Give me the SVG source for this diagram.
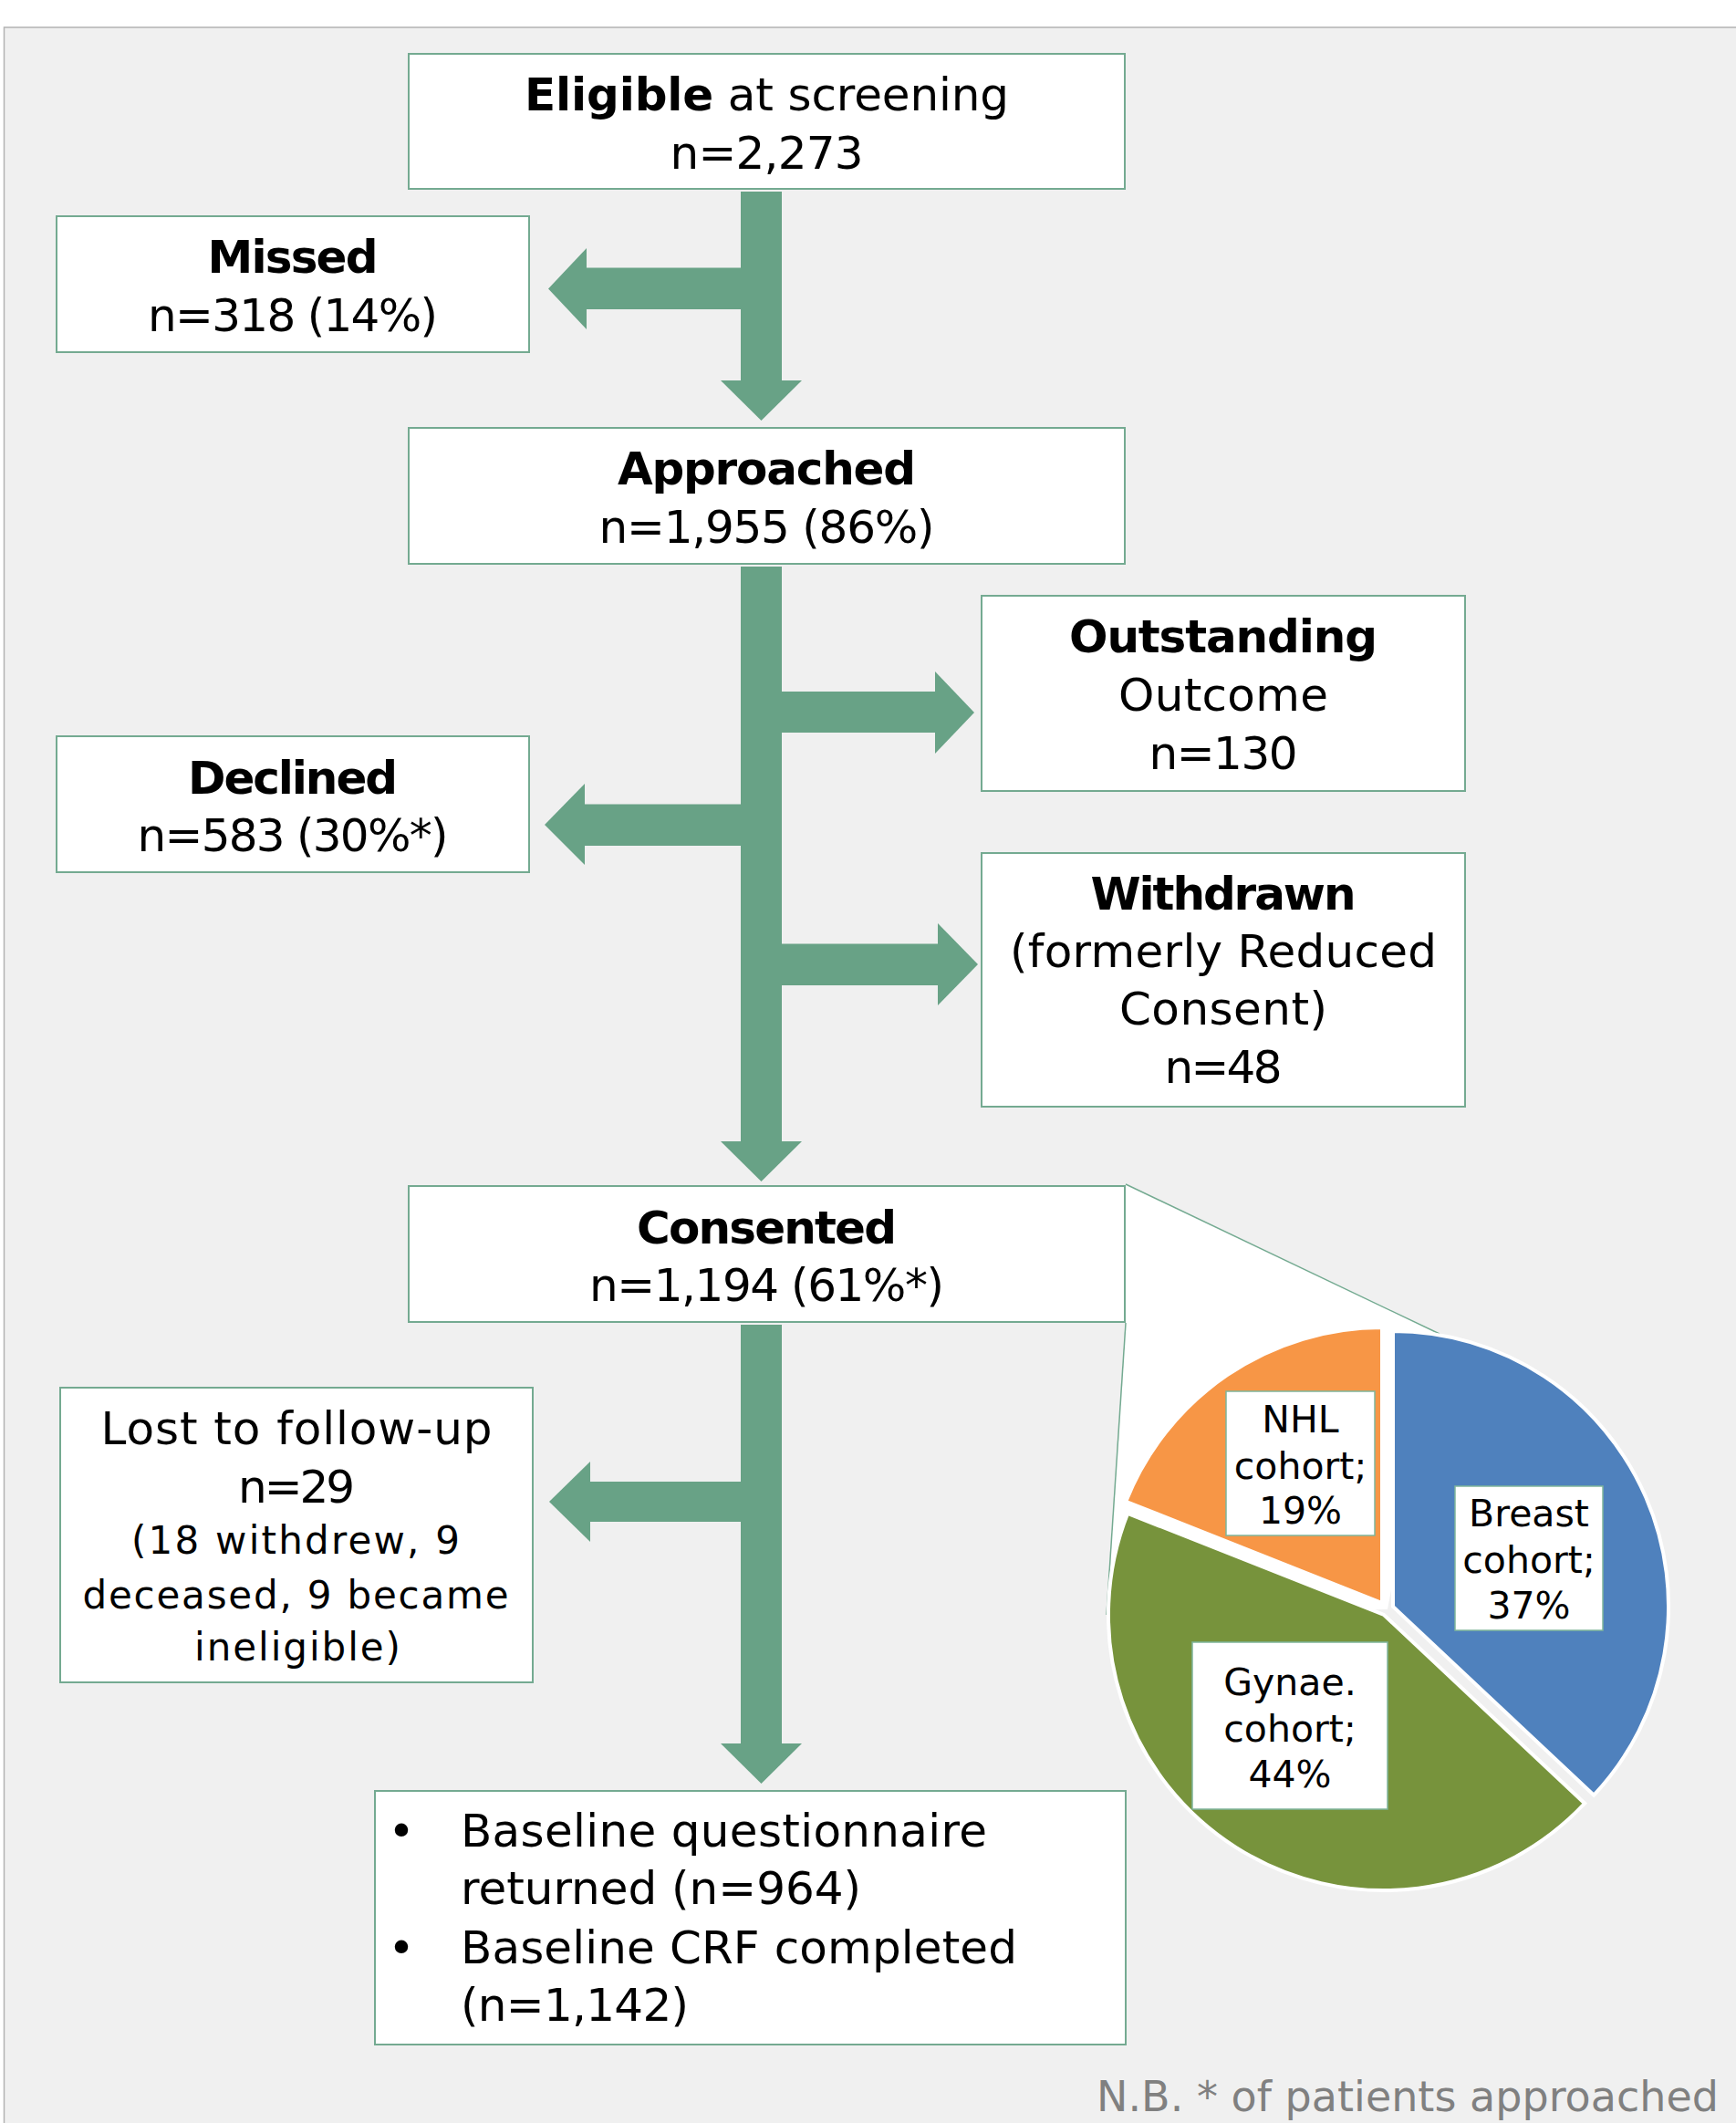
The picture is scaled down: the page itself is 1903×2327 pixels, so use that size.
<svg xmlns="http://www.w3.org/2000/svg" width="1903" height="2327" viewBox="0 0 1903 2327">
<style>
.box{fill:#ffffff;stroke:#74aa91;stroke-width:2}
.lbl{fill:#ffffff;stroke:#7fb59b;stroke-width:1.5}
.t{font-family:"DejaVu Sans","Liberation Sans",sans-serif;font-size:50px;fill:#000;text-anchor:middle}
.b{font-weight:bold}
.s{font-size:42px}
.p{font-size:41px}
.l{text-anchor:start}
.arr{fill:#68a286}
.zoom{fill:none;stroke:#74aa91;stroke-width:1.5}
.slice{stroke:#ffffff;stroke-width:4}
.note{font-family:"DejaVu Sans","Liberation Sans",sans-serif;font-size:46px;fill:#808080}
</style>
<rect x="0" y="0" width="1903" height="2327" fill="#ffffff"/>
<rect x="4.5" y="30" width="1920" height="2320" fill="#f0f0f0" stroke="#b3b3b3" stroke-width="1.5"/>

<g id="connectors">
  <rect class="arr" x="812" y="210" width="45" height="208"/>
  <polygon class="arr" points="790,417 879,417 834.5,461"/>
  <rect class="arr" x="642" y="293.5" width="171" height="45.5"/>
  <polygon class="arr" points="643,272 643,361 601,316.5"/>

  <rect class="arr" x="812" y="621" width="45" height="631"/>
  <polygon class="arr" points="790,1251 879,1251 834.5,1295"/>
  <rect class="arr" x="856" y="758" width="170" height="45"/>
  <polygon class="arr" points="1025,736 1025,826 1068,781"/>
  <rect class="arr" x="640" y="881.5" width="173" height="45.5"/>
  <polygon class="arr" points="641,859 641,948 597,904"/>
  <rect class="arr" x="856" y="1034.5" width="173" height="45.5"/>
  <polygon class="arr" points="1028,1012 1028,1102 1072,1057"/>

  <rect class="arr" x="812" y="1452" width="45" height="460"/>
  <polygon class="arr" points="790,1911 879,1911 834.5,1955"/>
  <rect class="arr" x="646" y="1624" width="167" height="44"/>
  <polygon class="arr" points="647,1602 647,1690 602,1646"/>
</g>

<g id="eligible">
  <rect class="box" x="448" y="59" width="785" height="148"/>
  <text class="t" x="840.5" y="121" textLength="531"><tspan class="b">Eligible</tspan> at screening</text>
  <text class="t" x="840.5" y="185" textLength="212">n=2,273</text>
</g>

<g id="missed">
  <rect class="box" x="62" y="237" width="518" height="149"/>
  <text class="t b" x="321" y="298.5" textLength="187">Missed</text>
  <text class="t" x="321" y="363" textLength="318">n=318 (14%)</text>
</g>

<g id="approached">
  <rect class="box" x="448" y="469" width="785" height="149"/>
  <text class="t b" x="840.5" y="531" textLength="327">Approached</text>
  <text class="t" x="840.5" y="595" textLength="368">n=1,955 (86%)</text>
</g>

<g id="outstanding">
  <rect class="box" x="1076" y="653" width="530" height="214"/>
  <text class="t b" x="1341" y="715" textLength="338">Outstanding</text>
  <text class="t" x="1341" y="779" textLength="230">Outcome</text>
  <text class="t" x="1341" y="843" textLength="163">n=130</text>
</g>

<g id="declined">
  <rect class="box" x="62" y="807" width="518" height="149"/>
  <text class="t b" x="321" y="870" textLength="230">Declined</text>
  <text class="t" x="321" y="933" textLength="341">n=583 (30%*)</text>
</g>

<g id="withdrawn">
  <rect class="box" x="1076" y="935" width="530" height="278"/>
  <text class="t b" x="1341" y="997" textLength="291">Withdrawn</text>
  <text class="t" x="1341" y="1060" textLength="468">(formerly Reduced</text>
  <text class="t" x="1341" y="1123" textLength="228">Consent)</text>
  <text class="t" x="1341" y="1187" textLength="129">n=48</text>
</g>

<g id="pie">
  <polygon points="1234,1298 1578,1461 1521,1764 1213,1770 1234,1450" fill="#ffffff"/>
  <line class="zoom" x1="1234" y1="1298" x2="1578" y2="1462"/>
  <line class="zoom" x1="1234" y1="1450" x2="1213" y2="1770"/>
  <path class="slice" fill="#4f81bd" d="M1527,1761 L1527,1459 A302,302 0 0 1 1747.2,1967.7 Z"/>
  <path class="slice" fill="#77933c" d="M1517,1770 L1737.2,1976.7 A302,302 0 0 1 1236.2,1658.8 Z"/>
  <path class="slice" fill="#f79646" d="M1515,1757 L1234.2,1645.8 A302,302 0 0 1 1515,1455 Z"/>
  <rect class="lbl" x="1344" y="1525" width="163" height="158"/>
  <text class="t p" x="1425.5" y="1570">NHL</text>
  <text class="t p" x="1425.5" y="1621">cohort;</text>
  <text class="t p" x="1425.5" y="1670">19%</text>
  <rect class="lbl" x="1595" y="1629" width="162" height="158"/>
  <text class="t p" x="1676" y="1673">Breast</text>
  <text class="t p" x="1676" y="1724">cohort;</text>
  <text class="t p" x="1676" y="1774">37%</text>
  <rect class="lbl" x="1307" y="1800" width="214" height="183"/>
  <text class="t p" x="1414" y="1858">Gynae.</text>
  <text class="t p" x="1414" y="1909">cohort;</text>
  <text class="t p" x="1414" y="1959">44%</text>
</g>

<g id="consented">
  <rect class="box" x="448" y="1300" width="785" height="149"/>
  <text class="t b" x="840.5" y="1363" textLength="285">Consented</text>
  <text class="t" x="840.5" y="1426" textLength="389">n=1,194 (61%*)</text>
</g>

<g id="lost">
  <rect class="box" x="66" y="1521" width="518" height="323"/>
  <text class="t" x="325" y="1583" textLength="429">Lost to follow-up</text>
  <text class="t" x="325" y="1647" textLength="128">n=29</text>
  <text class="t s" x="324" y="1703" textLength="360">(18 withdrew, 9</text>
  <text class="t s" x="324" y="1763" textLength="467">deceased, 9 became</text>
  <text class="t s" x="326" y="1820" textLength="226">ineligible)</text>
</g>

<g id="baseline">
  <rect class="box" x="411" y="1963" width="823" height="278"/>
  <text class="t" x="440" y="2024">•</text>
  <text class="t l" x="505" y="2024" textLength="577">Baseline questionnaire</text>
  <text class="t l" x="505" y="2087" textLength="439">returned (n=964)</text>
  <text class="t" x="440" y="2152">•</text>
  <text class="t l" x="505" y="2152" textLength="610">Baseline CRF completed</text>
  <text class="t l" x="505" y="2215" textLength="250">(n=1,142)</text>
</g>

<text class="note" x="1202" y="2314" textLength="682">N.B. * of patients approached</text>
</svg>
